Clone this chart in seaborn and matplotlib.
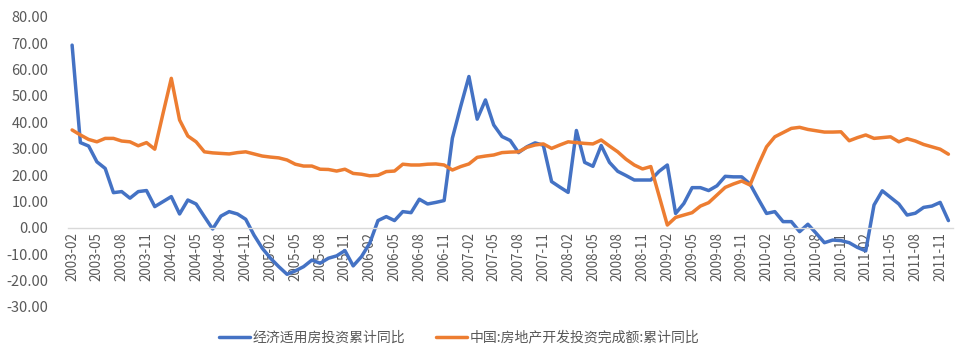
import pandas as pd
import matplotlib.pyplot as plt
import seaborn as sns

# monthly categories, 2003-02 .. 2011-12
months = pd.period_range("2003-02", "2011-12", freq="M").strftime("%Y-%m").tolist()

series_names = ["经济适用房投资累计同比", "中国:房地产开发投资完成额:累计同比"]

affordable = [
    69.3, 32.3, 31.0, 25.0, 22.5, 13.3, 13.7, 11.2, 13.7, 14.1,
    8.0, 9.9, 11.8, 5.2, 10.5, 9.0, 4.2, -0.5, 4.4, 6.1,
    5.2, 3.2, -2.8, -7.8, -11.6, -14.8, -17.7, -16.4, -14.8, -12.3,
    -13.5, -11.6, -10.7, -8.7, -14.5, -11.0, -5.9, 2.7, 4.2, 2.7,
    6.1, 5.7, 10.8, 9.0, 9.6, 10.3, 34.0, 46.0, 57.4, 41.2,
    48.5, 39.0, 34.6, 33.1, 28.5, 30.7, 32.2, 31.3, 17.5, 15.4,
    13.4, 36.9, 24.8, 23.3, 31.2, 24.8, 21.4, 19.8, 18.1, 18.1,
    18.1, 21.4, 23.8, 5.4, 9.2, 15.2, 15.2, 14.1, 15.9, 19.5,
    19.3, 19.3, 16.6, 10.9, 5.4, 6.1, 2.3, 2.3, -1.5, 1.3,
    -2.1, -5.7, -4.7, -4.9, -5.7, -7.5, -8.8, 8.6, 14.0, 11.5,
    9.0, 4.8, 5.5, 7.7, 8.2, 9.6, 2.7,
]

real_estate = [
    37.1, 35.2, 33.5, 32.6, 33.9, 33.9, 32.9, 32.6, 31.1, 32.3,
    29.8, 43.4, 56.7, 40.9, 34.8, 32.6, 28.8, 28.4, 28.2, 28.0,
    28.5, 28.8, 28.0, 27.2, 26.8, 26.5, 25.7, 24.1, 23.4, 23.4,
    22.2, 22.1, 21.5, 22.2, 20.6, 20.3, 19.7, 19.9, 21.3, 21.5,
    24.1, 23.8, 23.8, 24.1, 24.2, 23.8, 21.9, 23.2, 24.2, 26.7,
    27.2, 27.6, 28.5, 28.7, 28.8, 30.5, 31.4, 31.8, 30.1, 31.4,
    32.6, 32.3, 32.0, 31.8, 33.3, 31.0, 28.8, 26.0, 23.8, 22.3,
    23.2, 12.1, 1.0, 3.9, 4.8, 5.7, 8.2, 9.5, 12.4, 15.3,
    16.6, 17.7, 16.2, 23.8, 30.7, 34.5, 36.1, 37.7, 38.1, 37.3,
    36.8, 36.3, 36.3, 36.4, 33.0, 34.2, 35.2, 33.9, 34.2, 34.5,
    32.6, 33.8, 32.9, 31.6, 30.7, 29.8, 27.9,
]

colors = ["#4472C4", "#ED7D31"]

df = pd.DataFrame({
    "idx": list(range(len(months))) * 2,
    "value": affordable + real_estate,
    "series": [series_names[0]] * len(months) + [series_names[1]] * len(months),
})

sns.set_theme(style="white")
plt.rcParams["font.family"] = ["Noto Sans CJK SC", "DejaVu Sans"]

fig = plt.figure(figsize=(9.71, 3.64), dpi=100)
ax = fig.add_axes([0.070, 0.1574, 0.911, 0.796])

sns.lineplot(data=df, x="idx", y="value", hue="series", palette=colors,
             linewidth=2.5, ax=ax, legend=True)

ax.set_xlim(-0.5, len(months) - 0.5)
ax.set_ylim(-30, 80)
ax.set_yticks(range(-30, 81, 10))
ax.set_yticklabels([f"{v:.2f}" for v in range(-30, 81, 10)])

label_pos = list(range(0, len(months), 3))
ax.set_xticks(label_pos)
ax.set_xticklabels([months[i] for i in label_pos])
ax.set_xticks([p - 0.5 for p in label_pos], minor=True)
ax.tick_params(axis="x", which="major", length=0, pad=3, labelsize=9.6,
               colors="#595959", labelrotation=90)
ax.tick_params(axis="x", which="minor", length=5, width=1, color="#D9D9D9", direction="out")
ax.tick_params(axis="y", length=0, pad=14, labelsize=10.5, colors="#595959")

for s in ["top", "right", "left"]:
    ax.spines[s].set_visible(False)
ax.spines["bottom"].set_position(("data", 0))
ax.spines["bottom"].set_color("#D9D9D9")
ax.spines["bottom"].set_linewidth(1)
ax.grid(False)
ax.set_xlabel("")
ax.set_ylabel("")

handles, labels = ax.get_legend_handles_labels()
ax.get_legend().remove()
fig.legend(handles, labels, loc="center", bbox_to_anchor=(0.473, 0.072), ncol=2,
           frameon=False, fontsize=10, handlelength=2.2, handletextpad=0.2,
           columnspacing=2.2, labelcolor="#595959")

fig.savefig("out.png", dpi=100)
